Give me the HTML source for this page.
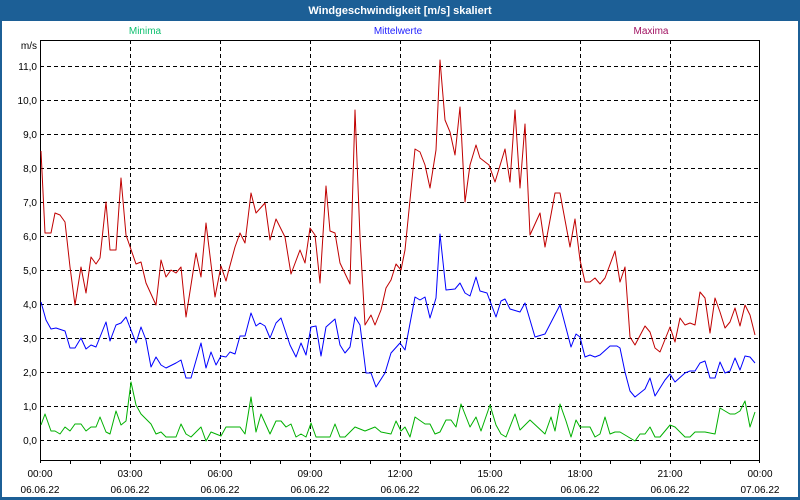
<!DOCTYPE html>
<html><head><meta charset="utf-8"><style>
html,body{margin:0;padding:0;background:#fff}
svg{display:block;font-family:"Liberation Sans","DejaVu Sans",sans-serif}
</style></head><body>
<svg width="800" height="500" viewBox="0 0 800 500" xmlns="http://www.w3.org/2000/svg">
<rect x="0" y="0" width="800" height="500" fill="#1c5f96"/>
<rect x="2" y="21" width="796" height="476" fill="#fff"/>
<text x="400" y="14" fill="#fff" font-size="11" font-weight="bold" text-anchor="middle">Windgeschwindigkeit [m/s] skaliert</text>
<text x="145" y="34" fill="#10c070" font-size="10" text-anchor="middle">Minima</text>
<text x="398" y="34" fill="#2020ff" font-size="10" text-anchor="middle">Mittelwerte</text>
<text x="651" y="34" fill="#a01060" font-size="10" text-anchor="middle">Maxima</text>
<g stroke="#000" stroke-width="1" stroke-dasharray="4,3" fill="none">
<path d="M40 66.5H760M40 100.5H760M40 134.5H760M40 168.5H760M40 202.5H760M40 236.5H760M40 270.5H760M40 304.5H760M40 338.5H760M40 372.5H760M40 406.5H760M40 440.5H760"/>
<path d="M130.5 40V460M220.5 40V460M310.5 40V460M400.5 40V460M490.5 40V460M580.5 40V460M670.5 40V460"/>
</g>
<g stroke="#000" stroke-width="1" fill="none">
<path d="M40.5 40V463M40 40.5H760M759.5 40V463M40 460.5H760"/>
<path d="M70.5 460V464M100.5 460V464M130.5 460V464M160.5 460V464M190.5 460V464M220.5 460V464M250.5 460V464M280.5 460V464M310.5 460V464M340.5 460V464M370.5 460V464M400.5 460V464M430.5 460V464M460.5 460V464M490.5 460V464M520.5 460V464M550.5 460V464M580.5 460V464M610.5 460V464M640.5 460V464M670.5 460V464M700.5 460V464M730.5 460V464"/>
</g>
<g font-size="10" fill="#000" text-anchor="end">
<text x="37" y="49">m/s</text>
<text x="37" y="70">11,0</text><text x="37" y="104">10,0</text><text x="37" y="138">9,0</text>
<text x="37" y="172">8,0</text><text x="37" y="206">7,0</text><text x="37" y="240">6,0</text>
<text x="37" y="274">5,0</text><text x="37" y="308">4,0</text><text x="37" y="342">3,0</text>
<text x="37" y="376">2,0</text><text x="37" y="410">1,0</text><text x="37" y="444">0,0</text>
</g>
<g font-size="10" fill="#000" text-anchor="middle">
<text x="40" y="477">00:00</text><text x="40" y="493">06.06.22</text>
<text x="130" y="477">03:00</text><text x="130" y="493">06.06.22</text>
<text x="220" y="477">06:00</text><text x="220" y="493">06.06.22</text>
<text x="310" y="477">09:00</text><text x="310" y="493">06.06.22</text>
<text x="400" y="477">12:00</text><text x="400" y="493">06.06.22</text>
<text x="490" y="477">15:00</text><text x="490" y="493">06.06.22</text>
<text x="580" y="477">18:00</text><text x="580" y="493">06.06.22</text>
<text x="670" y="477">21:00</text><text x="670" y="493">06.06.22</text>
<text x="760" y="477">00:00</text><text x="760" y="493">07.06.22</text>
</g>
<g fill="none" stroke-width="1" stroke-linejoin="round">
<polyline stroke="#c00000" points="41,151 45,233 51,233 55,213 60,215 65,222 70,267 75,305 81,267 86,293 91,257 96,264 100,258 106,202 110,250 116,250 121,178 126,235 136,264 141,262 146,283 156,305 161,260 166,277 171,270 176,273 181,267 186,317 196,253 201,277 206,223 215,297 221,266 226,281 228,273 235,247 240,233 245,243 251,193 256,213 265,203 270,240 276,219 285,237 291,274 300,250 305,263 310,228 315,235 320,283 326,186 330,231 335,233 340,263 350,284 355,110 360,237 365,325 371,315 375,325 381,310 386,288 391,280 396,264 401,270 405,250 410,200 415,149 420,152 425,165 430,188 436,150 440,60 445,120 450,132 455,155 460,107 465,202 470,165 476,145 480,158 489,165 495,182 505,149 510,182 515,110 520,188 525,124 530,235 540,213 545,247 555,193 560,193 570,247 575,219 580,260 585,282 590,282 595,278 600,284 605,278 615,251 620,282 625,267 630,337 635,345 645,326 650,332 655,348 660,352 670,327 675,342 680,318 685,325 690,323 695,325 700,292 705,298 710,333 715,298 720,312 725,328 730,322 735,308 740,326 745,305 750,315 755,335"/>
<polyline stroke="#0000ff" points="41,302 46,320 51,329 56,328 65,331 70,348 75,348 81,338 86,349 91,345 96,347 106,322 110,341 116,325 121,323 126,317 136,343 141,327 146,340 151,367 156,357 161,365 166,368 176,363 181,360 186,378 191,378 201,343 206,368 211,352 216,365 221,356 226,357 230,352 235,354 240,336 245,336 251,313 256,326 260,323 265,326 270,338 276,323 281,318 290,345 296,357 301,343 306,355 311,327 316,326 321,356 326,327 335,319 340,345 345,353 350,347 355,317 360,325 366,373 371,373 376,387 385,373 391,353 400,343 405,350 415,297 420,300 425,297 430,318 436,298 440,234 446,290 455,289 460,283 465,293 470,296 476,277 480,291 487,293 496,317 501,301 505,299 510,309 520,312 525,303 535,337 545,334 560,305 571,347 576,334 580,337 585,357 590,355 595,357 600,355 610,346 617,346 620,348 625,372 630,391 635,397 645,389 650,378 655,396 665,380 670,374 675,382 685,373 690,371 695,371 700,363 705,361 710,378 715,378 720,362 725,373 730,371 735,358 740,370 745,356 750,357 755,363"/>
<polyline stroke="#00b000" points="41,425 45,414 51,431 55,431 60,434 65,427 70,431 75,424 81,424 86,431 91,427 96,427 100,417 106,432 110,434 116,411 121,425 126,421 131,382 136,405 141,414 151,424 156,434 161,432 166,437 176,437 181,424 186,434 191,437 201,427 206,441 211,432 221,436 226,427 240,427 245,434 251,397 256,432 261,414 270,434 276,421 281,421 286,427 291,424 296,437 301,434 306,437 311,423 316,437 330,437 335,424 340,437 345,437 355,427 365,431 375,427 381,432 391,434 396,421 401,431 405,427 410,437 415,417 425,424 430,424 435,434 440,432 446,420 451,420 456,427 461,404 470,427 476,417 481,431 490,405 496,425 501,434 506,437 515,414 520,430 530,420 545,434 551,417 555,431 560,404 566,421 571,437 576,420 580,427 590,427 595,437 600,434 605,417 610,434 615,432 620,432 635,441 640,434 645,434 650,427 655,437 660,437 670,425 675,427 685,437 690,437 695,432 705,432 715,434 720,408 725,411 730,414 735,414 740,411 745,401 750,427 755,412"/>
</g>
</svg>
</body></html>
